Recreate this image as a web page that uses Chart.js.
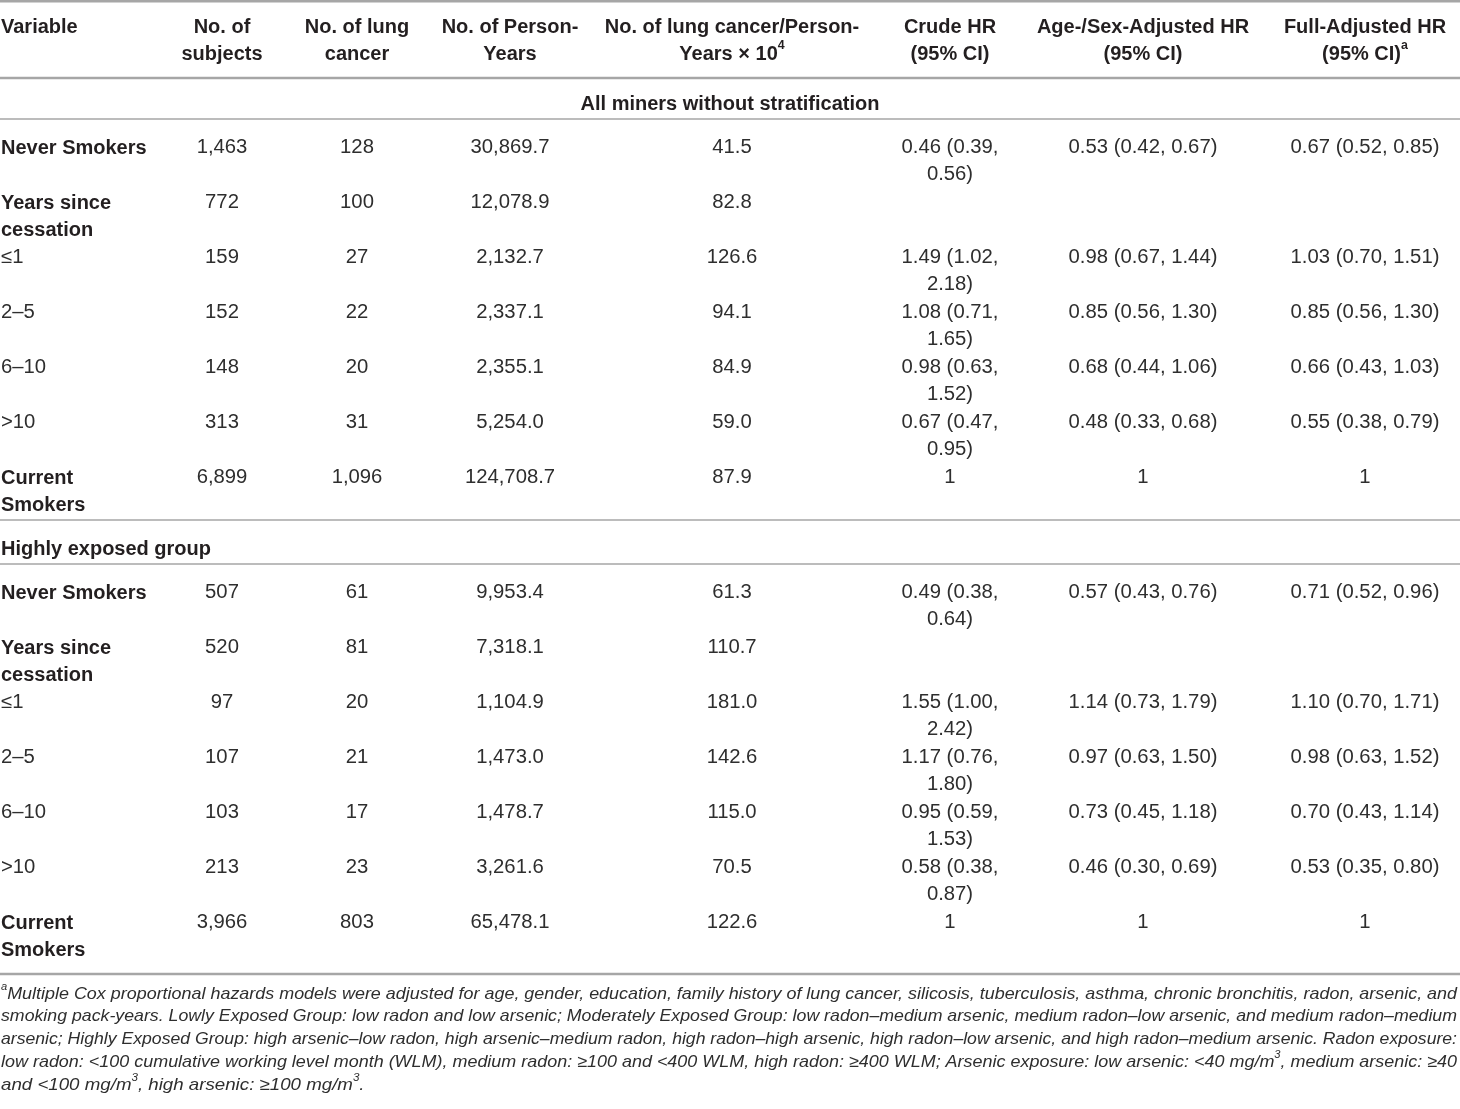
<!doctype html>
<html lang="en">
<head>
<meta charset="utf-8">
<title>Lung cancer risk by years since smoking cessation</title>
<style>
  * { margin: 0; padding: 0; }
  body { background: #fff; }
  .tableBox { width: 1460px; height: 1109px; }
</style>
</head>
<body>
<div class="tableBox"><canvas id="myChart" width="1460" height="1109"></canvas></div>
<script src="https://cdn.jsdelivr.net/npm/chart.js/dist/chart.umd.min.js"></script>
<script>
// ---- data ----
const columnHeaders = [
  ['Variable'],
  ['No. of', 'subjects'],
  ['No. of lung', 'cancer'],
  ['No. of Person-', 'Years'],
  ['No. of lung cancer/Person-', 'Years × 10^{4}'],
  ['Crude HR', '(95% CI)'],
  ['Age-/Sex-Adjusted HR', '(95% CI)'],
  ['Full-Adjusted HR', '(95% CI)^{a}']
];
const groupTitles = ['All miners without stratification', 'Highly exposed group'];
const rowLabels = ['Never Smokers', 'Years since cessation', '≤1', '2–5', '6–10', '>10', 'Current Smokers'];
const boldRows = [true, true, false, false, false, false, true];

// all miners
const subjectsAll = [1463, 772, 159, 152, 148, 313, 6899];
const lungCancerAll = [128, 100, 27, 22, 20, 31, 1096];
const personYearsAll = [30869.7, 12078.9, 2132.7, 2337.1, 2355.1, 5254.0, 124708.7];
const rateAll = [41.5, 82.8, 126.6, 94.1, 84.9, 59.0, 87.9];
const crudeHRAll = [[0.46, 0.39, 0.56], null, [1.49, 1.02, 2.18], [1.08, 0.71, 1.65], [0.98, 0.63, 1.52], [0.67, 0.47, 0.95], [1]];
const ageSexHRAll = [[0.53, 0.42, 0.67], null, [0.98, 0.67, 1.44], [0.85, 0.56, 1.30], [0.68, 0.44, 1.06], [0.48, 0.33, 0.68], [1]];
const fullHRAll = [[0.67, 0.52, 0.85], null, [1.03, 0.70, 1.51], [0.85, 0.56, 1.30], [0.66, 0.43, 1.03], [0.55, 0.38, 0.79], [1]];

// highly exposed group
const subjectsHigh = [507, 520, 97, 107, 103, 213, 3966];
const lungCancerHigh = [61, 81, 20, 21, 17, 23, 803];
const personYearsHigh = [9953.4, 7318.1, 1104.9, 1473.0, 1478.7, 3261.6, 65478.1];
const rateHigh = [61.3, 110.7, 181.0, 142.6, 115.0, 70.5, 122.6];
const crudeHRHigh = [[0.49, 0.38, 0.64], null, [1.55, 1.00, 2.42], [1.17, 0.76, 1.80], [0.95, 0.59, 1.53], [0.58, 0.38, 0.87], [1]];
const ageSexHRHigh = [[0.57, 0.43, 0.76], null, [1.14, 0.73, 1.79], [0.97, 0.63, 1.50], [0.73, 0.45, 1.18], [0.46, 0.30, 0.69], [1]];
const fullHRHigh = [[0.71, 0.52, 0.96], null, [1.10, 0.70, 1.71], [0.98, 0.63, 1.52], [0.70, 0.43, 1.14], [0.53, 0.35, 0.80], [1]];

const footnoteLines = [
  '^{a}Multiple Cox proportional hazards models were adjusted for age, gender, education, family history of lung cancer, silicosis, tuberculosis, asthma, chronic bronchitis, radon, arsenic, and',
  'smoking pack-years. Lowly Exposed Group: low radon and low arsenic; Moderately Exposed Group: low radon–medium arsenic, medium radon–low arsenic, and medium radon–medium',
  'arsenic; Highly Exposed Group: high arsenic–low radon, high arsenic–medium radon, high radon–high arsenic, high radon–low arsenic, and high radon–medium arsenic. Radon exposure:',
  'low radon: <100 cumulative working level month (WLM), medium radon: ≥100 and <400 WLM, high radon: ≥400 WLM; Arsenic exposure: low arsenic: <40 mg/m^{3}, medium arsenic: ≥40',
  'and <100 mg/m^{3}, high arsenic: ≥100 mg/m^{3}.'
];

// ---- formatting ----
const fmtInt = n => n.toLocaleString('en-US');
const fmt1 = n => n.toLocaleString('en-US', { minimumFractionDigits: 1, maximumFractionDigits: 1 });
const fmtHR = a => a === null ? '' : a.length === 1 ? String(a[0]) :
  a[0].toFixed(2) + ' (' + a[1].toFixed(2) + ', ' + a[2].toFixed(2) + ')';

function groupRows(subj, lung, py, rate, crude, ageSex, full) {
  return rowLabels.map((label, i) => [label, fmtInt(subj[i]), fmtInt(lung[i]), fmt1(py[i]), fmt1(rate[i]),
    fmtHR(crude[i]), fmtHR(ageSex[i]), fmtHR(full[i])]);
}
const tableGroups = [
  groupRows(subjectsAll, lungCancerAll, personYearsAll, rateAll, crudeHRAll, ageSexHRAll, fullHRAll),
  groupRows(subjectsHigh, lungCancerHigh, personYearsHigh, rateHigh, crudeHRHigh, ageSexHRHigh, fullHRHigh)
];

// ---- layout / styles ----
const layout = {
  colX: [1, 222, 357, 510, 732, 950, 1143, 1365],
  colWrap: [158, 140, 140, 160, 240, 128, 210, 210],
  lineH: 27,
  headerFirst: 27,
  headerRule: 78,
  titleH: [41, 44],
  titleX: [730, 1],
  titleAlign: ['center', 'left'],
  rowH: 55,
  rowFirst: 29,
  groupTail: [16, 25],
  footFirst: 20,
  footLineH: 22.7,
  footWidth: 1456
};
const ink = '#231f20';
const fonts = {
  head: { family: '"Liberation Sans", Arial, sans-serif', weight: 700, size: 20, color: ink },
  label: { family: '"Liberation Sans", Arial, sans-serif', weight: 700, size: 20, color: ink },
  cell: { family: '"Liberation Sans", Arial, sans-serif', weight: 400, size: 19.5, color: '#2e2e2e', sx: 1.04 },
  foot: { family: '"Liberation Sans", Arial, sans-serif', weight: 400, style: 'italic', size: 17, color: '#2e2e2e' }
};
const ruleColor = '#a6a6a6';

// ---- rich text helpers (superscripts written as ^{..}) ----
function parseRich(str) {
  const parts = [];
  const re = /\^\{([^}]*)\}/g;
  let last = 0, m;
  while ((m = re.exec(str))) {
    if (m.index > last) parts.push({ t: str.slice(last, m.index), sup: false });
    parts.push({ t: m[1], sup: true });
    last = re.lastIndex;
  }
  if (last < str.length) parts.push({ t: str.slice(last), sup: false });
  return parts;
}
function fontStr(f, sup) {
  return (f.style || 'normal') + ' ' + (f.weight || 400) + ' ' + (sup ? f.size * 0.62 : f.size) + 'px ' + f.family;
}
function richWidth(ctx, str, f) {
  let w = 0;
  parseRich(str).forEach(p => { ctx.font = fontStr(f, p.sup); w += ctx.measureText(p.t).width; });
  return w;
}
function drawRich(ctx, str, x, y, align, f, sxOverride) {
  const parts = parseRich(str);
  const sx = sxOverride || f.sx || 1;
  const w = richWidth(ctx, str, f) * sx;
  const x0 = align === 'center' ? x - w / 2 : align === 'right' ? x - w : x;
  ctx.save();
  ctx.translate(x0, y);
  ctx.scale(sx, 1);
  ctx.fillStyle = f.color;
  ctx.textBaseline = 'middle';
  ctx.textAlign = 'left';
  let cx = 0;
  parts.forEach(p => {
    ctx.font = fontStr(f, p.sup);
    ctx.fillText(p.t, cx, p.sup ? -f.size * 0.4 : 0);
    cx += ctx.measureText(p.t).width;
  });
  ctx.restore();
}
function wrapText(ctx, str, maxW, f) {
  const words = str.split(' ');
  const lines = [];
  let cur = '';
  words.forEach(wd => {
    const test = cur ? cur + ' ' + wd : wd;
    if (cur && richWidth(ctx, test, f) * (f.sx || 1) > maxW) { lines.push(cur); cur = wd; }
    else cur = test;
  });
  if (cur) lines.push(cur);
  return lines;
}

// ---- plugin that paints the table through the chart scales ----
const tablePlugin = {
  id: 'tablePlugin',
  afterDraw(chart) {
    const { ctx, scales: { x, y } } = chart;
    const L = layout;
    const left = x.getPixelForValue(0), right = x.getPixelForValue(1460);
    const rule = (v, w) => {
      const py = y.getPixelForValue(v);
      ctx.save();
      ctx.strokeStyle = ruleColor;
      ctx.lineWidth = w;
      ctx.beginPath();
      ctx.moveTo(left, py);
      ctx.lineTo(right, py);
      ctx.stroke();
      ctx.restore();
    };
    const cellX = c => x.getPixelForValue(L.colX[c]);
    const cellAlign = c => c === 0 ? 'left' : 'center';

    // header
    rule(1.2, 2.4);
    columnHeaders.forEach((lines, c) => {
      lines.forEach((t, k) => drawRich(ctx, t, cellX(c), y.getPixelForValue(L.headerFirst + k * L.lineH), cellAlign(c), fonts.head));
    });
    rule(L.headerRule, 2.4);

    // groups
    let cursor = L.headerRule;
    tableGroups.forEach((rows, g) => {
      cursor += L.titleH[g];
      drawRich(ctx, groupTitles[g], x.getPixelForValue(L.titleX[g]), y.getPixelForValue(cursor - 15), L.titleAlign[g], fonts.label);
      rule(cursor, 1.4);
      rows.forEach((cells, r) => {
        const top = cursor + r * L.rowH;
        cells.forEach((txt, c) => {
          if (!txt) return;
          const f = c === 0 ? (boldRows[r] ? fonts.label : fonts.cell) : fonts.cell;
          const lines = wrapText(ctx, txt, L.colWrap[c], f);
          lines.forEach((t, k) => drawRich(ctx, t, cellX(c), y.getPixelForValue(top + L.rowFirst + k * L.lineH), cellAlign(c), f));
        });
      });
      cursor += rows.length * L.rowH + L.groupTail[g];
      rule(cursor, g === tableGroups.length - 1 ? 2.4 : 1.4);
    });

    // footnote: full lines justified to the table width, last line at the mean glyph scale
    const scales = footnoteLines.map(t => L.footWidth / richWidth(ctx, t, fonts.foot));
    const body = scales.slice(0, -1);
    const meanScale = body.reduce((s, v) => s + v, 0) / body.length * 1.05;
    footnoteLines.forEach((t, k) => {
      const sx = k < footnoteLines.length - 1 ? scales[k] : meanScale;
      drawRich(ctx, t, x.getPixelForValue(1), y.getPixelForValue(cursor + L.footFirst + k * L.footLineH), 'left', fonts.foot, sx);
    });
  }
};

// ---- config ----
const config = {
  type: 'scatter',
  data: { datasets: [] },
  options: {
    responsive: false,
    animation: false,
    devicePixelRatio: 1,
    layout: { padding: 0 },
    plugins: { legend: { display: false }, tooltip: { enabled: false } },
    scales: {
      x: { type: 'linear', min: 0, max: 1460, display: false },
      y: { type: 'linear', min: 0, max: 1109, reverse: true, display: false }
    }
  },
  plugins: [tablePlugin]
};

const myChart = new Chart(document.getElementById('myChart'), config);
</script>
</body>
</html>
